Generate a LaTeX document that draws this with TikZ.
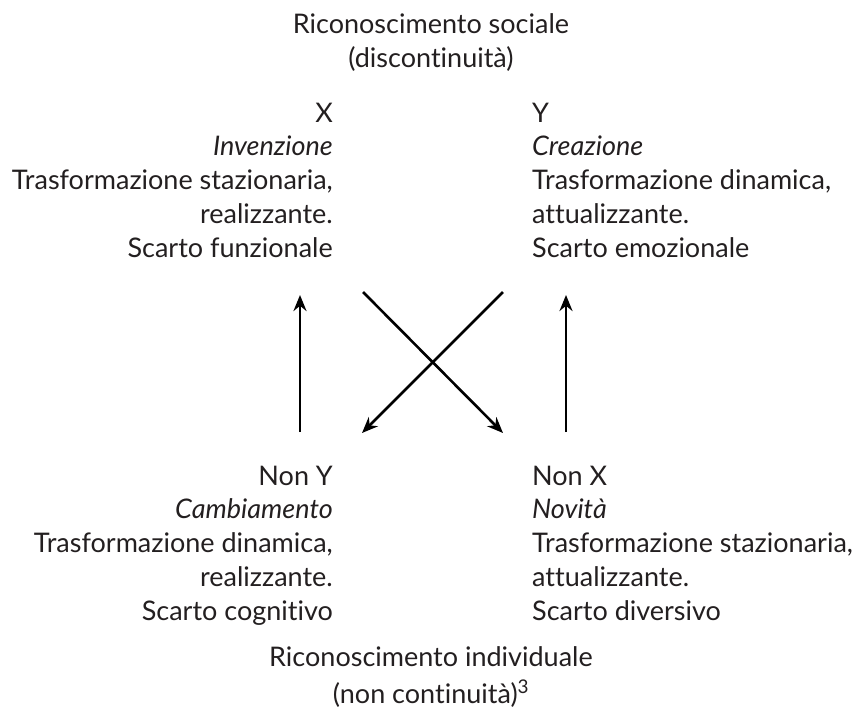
\documentclass[tikz,border=0pt]{standalone}
\usepackage{fontspec}
\setmainfont{Lato}[Ligatures=NoCommon]
\usetikzlibrary{arrows.meta}
\definecolor{ink}{HTML}{231F20}
\begin{document}
\begin{tikzpicture}[x=1pt,y=-1pt,
		txt/.style={font=\fontsize{27}{33.7}\selectfont, text=ink, inner sep=0pt},
		arr/.style={-{Stealth[length=16pt,width=13pt]}, line width=2.6pt}]
	\useasboundingbox (0,0) rectangle (857,724);
	% titles (base = baseline of the last line)
	\node [txt, align=center, anchor=base] (sociale) at (431,67) {Riconoscimento sociale\\(discontinuità)};
	\node [txt, align=center, anchor=base] (individuale) at (431,703) {Riconoscimento individuale\\[3pt](non continuità)\textsuperscript{3}};
	% the four blocks
	\node [txt, align=right, anchor=base east] (x) at (333,257) {X\\\textit{Invenzione}\\Trasformazione stazionaria,\\realizzante.\\Scarto funzionale};
	\node [txt, align=left, anchor=base west] (y) at (532,257) {Y\\\textit{Creazione}\\Trasformazione dinamica,\\attualizzante.\\Scarto emozionale};
	\node [txt, align=right, anchor=base east] (nony) at (333,620) {Non Y\\\textit{Cambiamento}\\Trasformazione dinamica,\\realizzante.\\Scarto cognitivo};
	\node [txt, align=left, anchor=base west] (nonx) at (532,620) {Non X\\\textit{Novità}\\Trasformazione stazionaria,\\attualizzante.\\Scarto diversivo};
	% arrows
	\coordinate (lb) at (300,432);
	\coordinate (lt) at (300,295);
	\coordinate (rb) at (566,432);
	\coordinate (rt) at (566,295);
	\coordinate (ct1) at (363,292);
	\coordinate (ct2) at (503,292);
	\coordinate (cb1) at (362,433);
	\coordinate (cb2) at (503,433);
	\draw [arr] (lb) -- (lt);
	\draw [arr] (rb) -- (rt);
	\draw [arr] (ct1) -- (cb2);
	\draw [arr] (ct2) -- (cb1);
\end{tikzpicture}
\end{document}
